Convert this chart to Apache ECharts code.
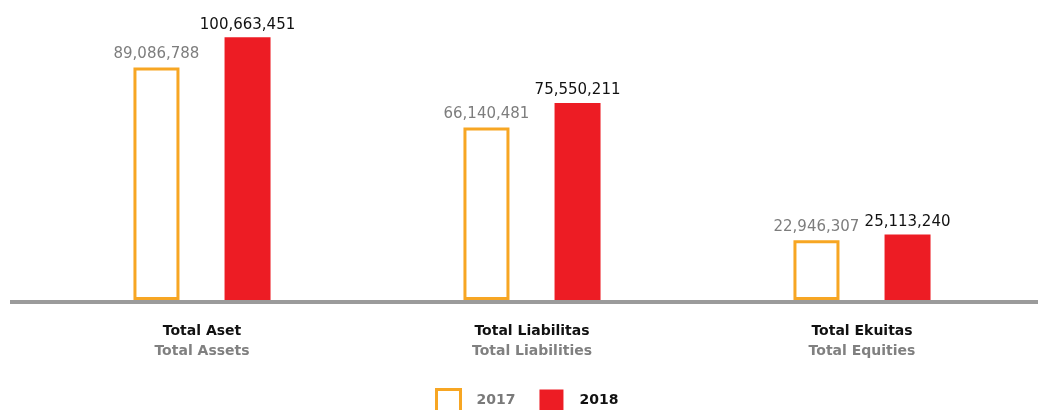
<!DOCTYPE html>
<html>
<head>
<meta charset="utf-8">
<script src="https://cdn.jsdelivr.net/npm/echarts@6/dist/echarts.min.js"></script>
<style>
html,body{margin:0;padding:0;background:#fff;}
#chart{width:1038px;height:410px;}
</style>
</head>
<body>
<div id="chart"></div>
<script>
const categoriesId = ['Total Aset', 'Total Liabilitas', 'Total Ekuitas'];
const categoriesEn = ['Total Assets', 'Total Liabilities', 'Total Equities'];
const values2017 = [89086788, 66140481, 22946307];
const values2018 = [100663451, 75550211, 25113240];
const seriesNames = ['2017', '2018'];

const ORANGE = '#F7A623';
const RED = '#ED1C24';
const FONT = 'DejaVu Sans';

const chart = echarts.init(document.getElementById('chart'));
const fmt = v => v.toLocaleString('en-US');

chart.setOption({
  animation: false,
  backgroundColor: '#fff',
  grid: { left: 37, right: 11, top: 13, bottom: 110 },
  legend: {
    left: 430,
    top: 383,
    itemWidth: 24,
    itemHeight: 22,
    itemGap: 24,
    icon: 'rect',
    data: [
      { name: seriesNames[0], itemStyle: { color: '#fff', borderColor: ORANGE, borderWidth: 3 },
        textStyle: { color: '#7a7a7a' } },
      { name: seriesNames[1], itemStyle: { color: RED, borderWidth: 0 },
        textStyle: { color: '#111' } }
    ],
    textStyle: { fontFamily: FONT, fontSize: 14, fontWeight: 'bold', padding: [2, 0, 0, 11] }
  },
  xAxis: {
    type: 'category',
    data: categoriesId,
    axisLine: { show: false },
    axisTick: { show: false },
    axisLabel: {
      margin: 21,
      formatter: (v, i) => '{a|' + v + '}\n{b|' + categoriesEn[i] + '}',
      rich: {
        a: { fontFamily: FONT, fontSize: 14, fontWeight: 'bold', color: '#111', lineHeight: 20 },
        b: { fontFamily: FONT, fontSize: 14, fontWeight: 'bold', color: '#808080', lineHeight: 20 }
      }
    }
  },
  yAxis: {
    type: 'value',
    min: 0,
    max: 110000000,
    show: false,
    splitLine: { show: false }
  },
  series: [
    {
      name: seriesNames[0],
      type: 'bar',
      data: values2017,
      barWidth: 46,
      barGap: '98%',
      itemStyle: { color: '#fff', borderColor: ORANGE, borderWidth: 3 },
      label: {
        show: true, position: 'top', distance: 6,
        formatter: p => fmt(p.value),
        fontFamily: FONT, fontSize: 15, color: '#7d7d7d'
      }
    },
    {
      name: seriesNames[1],
      type: 'bar',
      data: values2018,
      barWidth: 46,
      itemStyle: { color: RED },
      label: {
        show: true, position: 'top', distance: 5,
        formatter: p => fmt(p.value),
        fontFamily: FONT, fontSize: 15, color: '#111'
      }
    }
  ],
  graphic: [
    { type: 'rect', shape: { x: 10, y: 300, width: 1028, height: 4 }, style: { fill: '#9b9b9b' }, z: 10 }
  ]
});
</script>
</body>
</html>
